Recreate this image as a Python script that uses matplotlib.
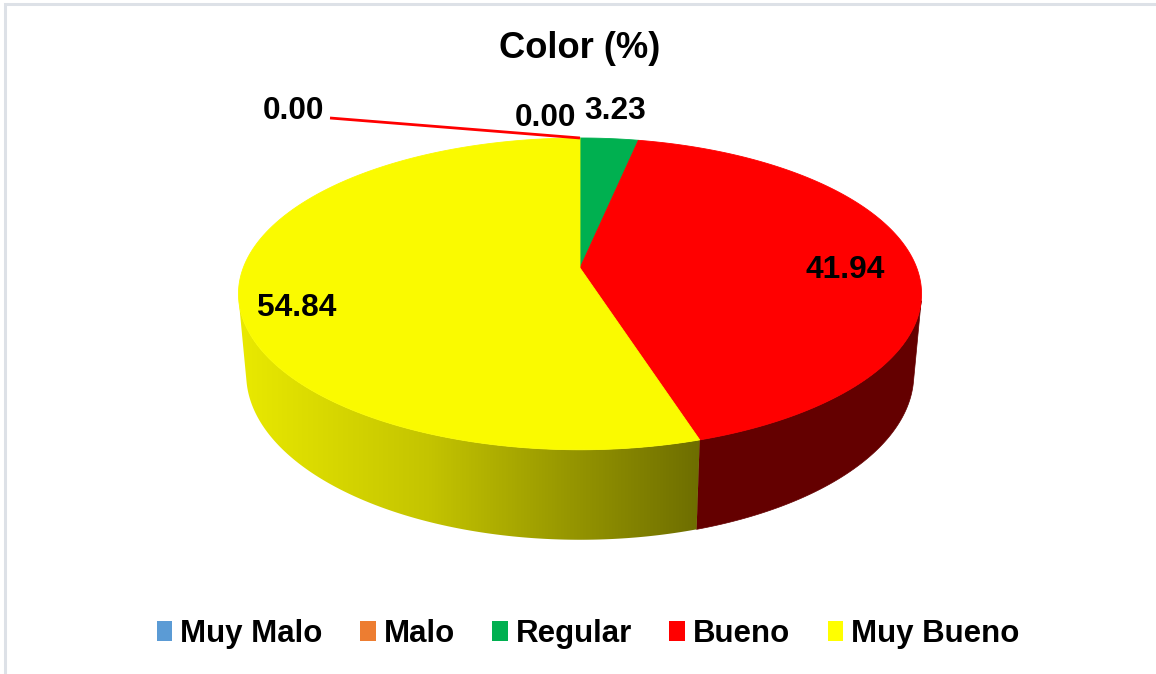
import numpy as np
import matplotlib
matplotlib.use("Agg")
import matplotlib.pyplot as plt
from matplotlib.patches import Polygon, Patch
from matplotlib.colors import LinearSegmentedColormap

# ---- data ----
categories = ["Muy Malo", "Malo", "Regular", "Bueno", "Muy Bueno"]
values = [0.00, 0.00, 3.23, 41.94, 54.84]
title = "Color (%)"

# ---- styles ----
top_colors = ["#5B9BD5", "#ED7D31", "#00B050", "#FF0000", "#FAFA00"]
side_colors = ["#2E5A87", "#8A4214", "#006B30", "#640000", None]  # None -> shaded gradient
legend_colors = ["#5B9BD5", "#ED7D31", "#00B050", "#FF0000", "#FFFF00"]
FONT = "Liberation Sans"

W, H = 1156, 674
fig = plt.figure(figsize=(W / 100, H / 100), dpi=100)
ax = fig.add_axes([0, 0, 1, 1])
ax.set_xlim(0, W)
ax.set_ylim(H, 0)
ax.axis("off")

# ---- 3D pie camera ----
cx, cy = 580.0, 268.0          # screen position of the pie centre
elev = np.radians(26.75)
dist = 5.38
focal = 1812.0
thick = 0.27
ce, se = np.cos(elev), np.sin(elev)


def proj(theta, z=0.0, r=1.0):
    """theta measured clockwise from 12 o'clock (radians)."""
    u = r * np.sin(theta)
    v = r * np.cos(theta)
    depth = dist + v * ce - z * se
    sy = v * se + z * ce
    return cx + focal * u / depth, cy - focal * sy / depth


total = sum(values)
bounds = np.concatenate([[0], np.cumsum(values)]) / total * 2 * np.pi

# visible range of the side wall
vis = np.arccos(-1.0 / (dist * ce))
vis_lo, vis_hi = vis, 2 * np.pi - vis

# yellow wall shading along screen x (236 .. 706 px)
shade_cmap = LinearSegmentedColormap.from_list(
    "wall", [(0.0, "#EAEA00"), (0.41, "#C4C400"), (0.685, "#9A9A00"),
             (0.985, "#6E6E00"), (1.0, "#6C6C00")])

for i, (a, b) in enumerate(zip(bounds[:-1], bounds[1:])):
    lo, hi = max(a, vis_lo), min(b, vis_hi)
    if hi <= lo:
        continue
    th = np.linspace(lo, hi, 200)
    tx, ty = proj(th, 0.0)
    bx, by = proj(th[::-1], -thick)
    pts = np.column_stack([np.concatenate([tx, bx]), np.concatenate([ty, by])])
    if side_colors[i] is not None:
        ax.add_patch(Polygon(pts, closed=True, facecolor=side_colors[i],
                             edgecolor=side_colors[i], lw=0.5, zorder=2))
    else:
        poly = Polygon(pts, closed=True, facecolor="none", edgecolor="none", zorder=2)
        ax.add_patch(poly)
        grad = np.linspace(0, 1, 512).reshape(1, -1)
        x0, x1 = 236, 706
        im = ax.imshow(grad, cmap=shade_cmap, aspect="auto",
                       extent=[x0, x1, pts[:, 1].max() + 2, pts[:, 1].min() - 2],
                       zorder=2, interpolation="bilinear")
        im.set_clip_path(poly)

# top faces
for i, (a, b) in enumerate(zip(bounds[:-1], bounds[1:])):
    if b - a <= 0:
        continue
    th = np.linspace(a, b, 300)
    tx, ty = proj(th, 0.0)
    pts = np.column_stack([np.concatenate([[cx], tx]), np.concatenate([[cy], ty])])
    ax.add_patch(Polygon(pts, closed=True, facecolor=top_colors[i],
                         edgecolor=top_colors[i], lw=0.6, zorder=3))
ax.set_xlim(0, W)
ax.set_ylim(H, 0)

# ---- data labels ----
label_pos = {
    "Muy Malo": (293, 111),
    "Malo": (545, 118),
    "Regular": (615, 111),
    "Bueno": (845, 270),
    "Muy Bueno": (297, 308),
}
lab_kw = dict(fontsize=22.8, fontweight="bold", family=FONT, color="black",
              ha="center", va="center", zorder=5)
for cat, val in zip(categories, values):
    x, y = label_pos[cat]
    ax.text(x, y, f"{val:.2f}", **lab_kw)

# leader line from the first zero-value label to its slice edge
px, py = proj(bounds[0], 0.0)
ax.plot([330, px], [118, py], color="#FF0000", lw=2.0, zorder=4,
        solid_capstyle="butt")

# ---- title ----
ax.text(W / 2 + 2, 48, title, fontsize=26.2, fontweight="bold", family=FONT,
        ha="center", va="center")

# ---- chart frame ----
ax.plot([5, 5, W], [H, 4, 4], color="#DDE1E7", lw=2.2, zorder=1,
        solid_joinstyle="miter")

# ---- legend ----
handles = [Patch(facecolor=c, edgecolor="none") for c in legend_colors]
fig.legend(handles, categories, loc="center", bbox_to_anchor=(0.5 + 10 / W, 1 - 634 / H),
           ncol=5, frameon=False,
           prop=dict(family=FONT, weight="bold", size=22.5),
           handlelength=0.5, handleheight=0.65, handletextpad=0.25,
           columnspacing=1.2, borderaxespad=0)

fig.savefig("out.png", dpi=100)
